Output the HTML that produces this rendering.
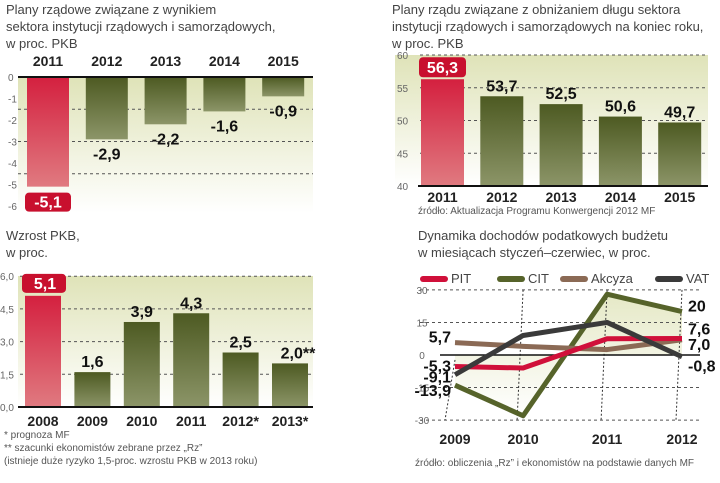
<!DOCTYPE html>
<html><head><meta charset="utf-8"><style>
body{margin:0;background:#fff;width:720px;height:478px;overflow:hidden;font-family:"Liberation Sans",sans-serif}
svg text{font-family:"Liberation Sans",sans-serif}
</style></head><body>
<svg id="s" width="720" height="478">
<defs>
<linearGradient id="bg" x1="0" y1="0" x2="0" y2="1"><stop offset="0" stop-color="#dfe3b8"/><stop offset="1" stop-color="#ffffff"/></linearGradient>
<linearGradient id="gr" x1="0" y1="0" x2="0" y2="1"><stop offset="0" stop-color="#4d5a22"/><stop offset="1" stop-color="#8c9568"/></linearGradient>
<linearGradient id="rd" x1="0" y1="0" x2="0" y2="1"><stop offset="0" stop-color="#d4203f"/><stop offset="1" stop-color="#e07a80"/></linearGradient>
</defs>
<g fill="#444" font-size="13">
<text x="6" y="14">Plany rządowe związane z wynikiem</text>
<text x="6" y="31">sektora instytucji rządowych i samorządowych,</text>
<text x="6" y="48">w proc. PKB</text>
<text x="392" y="14">Plany rządu związane z obniżaniem długu sektora</text>
<text x="392" y="31">instytucji rządowych i samorządowych na koniec roku,</text>
<text x="392" y="48">w proc. PKB</text>
<text x="6" y="240">Wzrost PKB,</text>
<text x="6" y="257">w proc.</text>
<text x="418" y="240">Dynamika dochodów podatkowych budżetu</text>
<text x="418" y="257">w miesiącach styczeń–czerwiec, w proc.</text>
</g>
<g fill="#555" font-size="10">
<text x="418" y="214">źródło: Aktualizacja Programu Konwergencji 2012 MF</text>
<text x="4" y="438">* prognoza MF</text>
<text x="4" y="451">** szacunki ekonomistów zebrane przez „Rz”</text>
<text x="4" y="464">(istnieje duże ryzyko 1,5-proc. wzrostu PKB w 2013 roku)</text>
<text x="415" y="466">źródło: obliczenia „Rz” i ekonomistów na podstawie danych MF</text>
</g>
<g id="c1"></g><g id="c2"></g><g id="c3"></g><g id="c4"></g>
</svg>
<script>
const c1Years=["2011","2012","2013","2014","2015"];
const c1Values=[-5.1,-2.9,-2.2,-1.6,-0.9];
const c1Labels=["-5,1","-2,9","-2,2","-1,6","-0,9"];
const c1Ticks=[0,-1,-2,-3,-4,-5,-6];
const c2Years=["2011","2012","2013","2014","2015"];
const c2Values=[56.3,53.7,52.5,50.6,49.7];
const c2Labels=["56,3","53,7","52,5","50,6","49,7"];
const c2Ticks=[40,45,50,55,60];
const c3Years=["2008","2009","2010","2011","2012*","2013*"];
const c3Values=[5.1,1.6,3.9,4.3,2.5,2.0];
const c3Labels=["5,1","1,6","3,9","4,3","2,5","2,0**"];
const c3Ticks=["0,0","1,5","3,0","4,5","6,0"];
const c3TickVals=[0,1.5,3,4.5,6];
const c4Years=["2009","2010","2011","2012"];
const c4PIT=[-5.3,-6.0,7.5,7.6];
const c4CIT=[-13.9,-28,28,20];
const c4Akcyza=[5.7,4.0,2.5,7.0];
const c4VAT=[-9.1,9.0,15,-0.8];
const c4Ticks=[30,15,0,-15,-30];
const NS="http://www.w3.org/2000/svg";
function mk(p,t,a,txt){const e=document.createElementNS(NS,t);for(const k in a)e.setAttribute(k,a[k]);if(txt!==undefined)e.textContent=txt;p.appendChild(e);return e;}
// chart 1
(function(){const g=document.getElementById('c1');
const y=v=>77+v*(-21.5);const x=i=>27+i*58.8;const bw=42;
mk(g,'rect',{x:18,y:77,width:295,height:136,fill:'url(#bg)'});
[-1.5,-3,-4.5].forEach(v=>mk(g,'line',{x1:18,x2:313,y1:y(v),y2:y(v),stroke:'#555','stroke-dasharray':'3,3'}));
c1Ticks.forEach(v=>mk(g,'text',{x:8,y:y(v)+4,'font-size':10,fill:'#666'},String(v)));
c1Values.forEach((v,i)=>{const r=mk(g,'rect',{x:x(i),y:y(0),width:bw,height:y(v)-y(0),fill:i==0?'url(#rd)':'url(#gr)'});

mk(g,'text',{x:x(i)+bw/2,y:66,'text-anchor':'middle','font-size':14,'font-weight':'bold',fill:'#222'},c1Years[i]);
if(i==0){mk(g,'rect',{x:x(i)-2,y:y(v)+6,width:bw+4,height:19,rx:4,fill:'#c8102e'});mk(g,'text',{x:x(i)+bw/2,y:y(v)+21,'text-anchor':'middle','font-size':16,'font-weight':'bold',fill:'#fff'},c1Labels[i]);}
else mk(g,'text',{x:x(i)+bw/2,y:y(v)+20,'text-anchor':'middle','font-size':16,'font-weight':'bold',fill:'#111'},c1Labels[i]);});
mk(g,'line',{x1:18,x2:313,y1:77,y2:77,stroke:'#111','stroke-width':2});})();
// chart 2
(function(){const g=document.getElementById('c2');
const y=v=>186-(v-40)*6.55;const x=i=>421+i*59.3;const bw=43;
mk(g,'rect',{x:395,y:55,width:313,height:131,fill:'url(#bg)'});
[45,50,55,60].forEach(v=>mk(g,'line',{x1:420,x2:708,y1:y(v),y2:y(v),stroke:'#555','stroke-dasharray':'3,3'}));
c2Ticks.forEach(v=>mk(g,'text',{x:397,y:y(v)+4,'font-size':10,fill:'#666'},String(v)));
c2Values.forEach((v,i)=>{const r=mk(g,'rect',{x:x(i),y:y(v),width:bw,height:y(40)-y(v),fill:i==0?'url(#rd)':'url(#gr)'});

mk(g,'text',{x:x(i)+bw/2,y:202,'text-anchor':'middle','font-size':14,'font-weight':'bold',fill:'#222'},c2Years[i]);
if(i==0){mk(g,'rect',{x:x(i)-2,y:y(v)-22,width:bw+4,height:20,rx:4,fill:'#c8102e'});mk(g,'text',{x:x(i)+bw/2,y:y(v)-6,'text-anchor':'middle','font-size':16,'font-weight':'bold',fill:'#fff'},c2Labels[i]);}
else mk(g,'text',{x:x(i)+bw/2,y:y(v)-5,'text-anchor':'middle','font-size':16,'font-weight':'bold',fill:'#111'},c2Labels[i]);});
mk(g,'line',{x1:418,x2:708,y1:186,y2:186,stroke:'#111','stroke-width':2});})();
// chart 3
(function(){const g=document.getElementById('c3');
const y=v=>407-v*21.8;const x=i=>25+i*49.4;const bw=36;
mk(g,'rect',{x:18,y:276,width:295,height:131,fill:'url(#bg)'});
[1.5,3,4.5,6].forEach(v=>mk(g,'line',{x1:20,x2:313,y1:y(v),y2:y(v),stroke:'#555','stroke-dasharray':'3,3'}));
c3TickVals.forEach((v,i)=>mk(g,'text',{x:0,y:y(v)+4,'font-size':10,fill:'#666'},c3Ticks[i]));
c3Values.forEach((v,i)=>{const r=mk(g,'rect',{x:x(i),y:y(v),width:bw,height:y(0)-y(v),fill:i==0?'url(#rd)':'url(#gr)'});

mk(g,'text',{x:x(i)+bw/2,y:426,'text-anchor':'middle','font-size':14,'font-weight':'bold',fill:'#222'},c3Years[i]);
if(i==0){mk(g,'rect',{x:x(i)-3,y:y(v)-22,width:bw+8,height:19,rx:4,fill:'#c8102e'});mk(g,'text',{x:x(i)+bw/2+2,y:y(v)-7,'text-anchor':'middle','font-size':16,'font-weight':'bold',fill:'#fff'},c3Labels[i]);}
else mk(g,'text',{x:x(i)+bw/2+(i==5?8:0),y:y(v)-5,'text-anchor':'middle','font-size':16,'font-weight':'bold',fill:'#111'},c3Labels[i]);});
mk(g,'line',{x1:18,x2:313,y1:407,y2:407,stroke:'#111','stroke-width':2});})();
// chart 4
(function(){const g=document.getElementById('c4');
const y=v=>355-v*2.17;const xs=[455,523,610,682];const x=i=>xs[0]+(xs[3]-xs[0])*[0,0.3,0.67,1][i];
const pts=a=>a.map((v,i)=>x(i)+','+y(v)).join(' ');
mk(g,'polygon',{points:pts(c4CIT)+' '+x(3)+','+y(0)+' '+x(0)+','+y(0),fill:'url(#bg)',opacity:0.8});
[30,15,-15,-30].forEach(v=>mk(g,'line',{x1:420,x2:700,y1:y(v),y2:y(v),stroke:'#555','stroke-dasharray':'3,3'}));
c4Ticks.forEach(v=>mk(g,'text',{x:418,y:y(v)+4,'font-size':10,fill:'#666','text-anchor':'middle',dx:4},String(v)));
[0,1,2,3].forEach(i=>mk(g,'line',{x1:x(i),x2:x(i)-(i==0?10:6),y1:y(30)+(i==0?70:0),y2:y(-30),stroke:'#333','stroke-dasharray':'2,2'}));
mk(g,'line',{x1:440,x2:700,y1:y(0),y2:y(0),stroke:'#111','stroke-width':1.5});
const ser=[[c4CIT,'#56632a','CIT'],[c4Akcyza,'#8b6a55','Akcyza'],[c4PIT,'#d0103a','PIT'],[c4VAT,'#3a3a3a','VAT']];
ser.forEach(s=>{const l=mk(g,'polyline',{points:pts(s[0]),fill:'none',stroke:s[1],'stroke-width':5,'stroke-linejoin':'round'});
});
c4Years.forEach((t,i)=>mk(g,'text',{x:x(i),y:444,'text-anchor':'middle','font-size':14,'font-weight':'bold',fill:'#222'},t));
const leg=[['PIT','#d0103a',420],['CIT','#56632a',497],['Akcyza','#8b6a55',560],['VAT','#3a3a3a',655]];
leg.forEach(l=>{const r=mk(g,'rect',{x:l[2],y:276,width:28,height:6,rx:3,fill:l[1]});
mk(g,'text',{x:l[2]+31,y:283,'font-size':13,fill:'#444'},l[0]);});
const L=[['5,7',c4Akcyza[0],0],['-5,3',c4PIT[0],5],['-9,1',c4VAT[0],8],['-13,9',c4CIT[0],11]];
L.forEach(l=>mk(g,'text',{x:451,y:y(l[1])+l[2],'text-anchor':'end','font-size':16,'font-weight':'bold',fill:'#111'},l[0]));
const R=[['20',c4CIT[3],0],['7,6',c4PIT[3],-4],['7,0',c4Akcyza[3],10],['-0,8',c4VAT[3],15]];
R.forEach(l=>mk(g,'text',{x:688,y:y(l[1])+l[2],'font-size':16,'font-weight':'bold',fill:'#111'},l[0]));
})();
</script>
</body></html>
